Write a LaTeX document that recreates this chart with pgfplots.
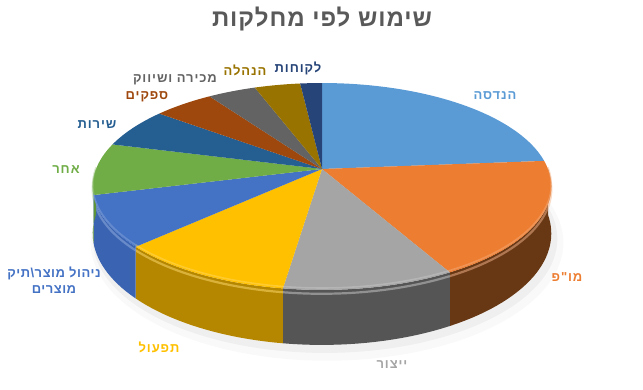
\documentclass[border=0pt]{standalone}
\usepackage{pgfplots}
\usepackage{pgfplotstable}
\pgfplotsset{compat=1.18}
\usepackage{fontspec}
\setmainfont{Liberation Sans}
\newfontfamily\heb[Script=Hebrew, LetterSpace=7]{Liberation Sans}
\newfontfamily\hebn[Script=Hebrew, LetterSpace=4]{Liberation Sans}
\newfontfamily\hebt[Script=Hebrew, LetterSpace=4]{Liberation Sans}
\TeXXeTstate=1

% slice (top) colours
\definecolor{c1}{HTML}{5B9BD5}
\definecolor{c2}{HTML}{ED7D31}
\definecolor{c3}{HTML}{A5A5A5}
\definecolor{c4}{HTML}{FFC000}
\definecolor{c5}{HTML}{4472C4}
\definecolor{c6}{HTML}{70AD47}
\definecolor{c7}{HTML}{255E91}
\definecolor{c8}{HTML}{9E480E}
\definecolor{c9}{HTML}{636363}
\definecolor{c10}{HTML}{997300}
\definecolor{c11}{HTML}{264478}
% side colours
\definecolor{s1}{HTML}{3F77AA}
\definecolor{s2}{HTML}{683714}
\definecolor{s3}{HTML}{555555}
\definecolor{s4}{HTML}{B58700}
\definecolor{s5}{HTML}{3A64B2}
\definecolor{s6}{HTML}{5E9439}
\definecolor{s7}{HTML}{1C4A73}
\definecolor{s8}{HTML}{7A370A}
\definecolor{s9}{HTML}{4A4A4A}
\definecolor{s10}{HTML}{765900}
\definecolor{s11}{HTML}{1C335A}
\definecolor{titlegray}{HTML}{595959}

% share of use per department (percent), clockwise from 12 o'clock
\pgfplotstableread{
value
23.7
18.3
10.3
10.7
8.0
8.1
6.3
5.0
4.0
3.8
1.8
}\piedata

% geometry of the projected pie (axis units = px)
\def\pcx{322}\def\pcy{221}\def\prx{226}\def\pry{100.5}\def\pkk{0.169}\def\pthk{45.7}

% append rim points from angle #1 to #2 at level #3 (0 top, 1 bottom) to \poly
\newcommand\buildrim[3]{%
  \pgfmathsetmacro\nn{max(2,ceil(abs(#1-#2)/2))}%
  \pgfmathtruncatemacro\nn{\nn}%
  \pgfmathsetmacro\stp{(#2-#1)/\nn}%
  \foreach \j in {0,...,\nn}{%
    \pgfmathsetmacro\ang{#1+\stp*\j}%
    \pgfmathsetmacro\vv{sin(\ang)}%
    \pgfmathsetmacro\ww{1+\pkk*\vv}%
    \pgfmathsetmacro\px{\pcx+\prx*cos(\ang)/\ww}%
    \pgfmathsetmacro\py{\pcy+\pry*\vv/\ww-#3*\pthk/\ww}%
    \xdef\poly{\poly (\px,\py)}%
  }%
}

\begin{document}
\begin{tikzpicture}
\pgfplotstablegetrowsof{\piedata}
\pgfmathtruncatemacro\nrows{\pgfplotsretval}
\xdef\total{0}
\foreach \i in {1,...,\nrows}{%
  \pgfmathtruncatemacro\rr{\i-1}%
  \pgfplotstablegetelem{\rr}{value}\of\piedata
  \pgfmathsetmacro\tt{\total+\pgfplotsretval}%
  \xdef\total{\tt}%
}
\xdef\cum{0}
\foreach \i in {1,...,\nrows}{%
  \pgfmathtruncatemacro\rr{\i-1}%
  \pgfplotstablegetelem{\rr}{value}\of\piedata
  \pgfmathsetmacro\pa{90-360*(\cum/\total)}%
  \pgfmathsetmacro\pc{\cum+\pgfplotsretval}%
  \xdef\cum{\pc}%
  \pgfmathsetmacro\pb{90-360*(\cum/\total)}%
  \xdef\poly{(\pcx,\pcy)}%
  \buildrim{\pa}{\pb}{0}%
  \expandafter\xdef\csname top\i\endcsname{\poly}%
  \pgfmathsetmacro\ps{min(\pa,0)}%
  \pgfmathsetmacro\pe{max(\pb,-180)}%
  \pgfmathtruncatemacro\hs{\ps>\pe}%
  \expandafter\xdef\csname hs\i\endcsname{\hs}%
  \ifnum\hs=1
    \xdef\poly{}%
    \buildrim{\ps}{\pe}{0}%
    \buildrim{\pe}{\ps}{1}%
    \expandafter\xdef\csname side\i\endcsname{\poly}%
    \xdef\poly{}%
    \buildrim{\ps}{\pe}{0.07}%
    \expandafter\xdef\csname hl\i\endcsname{\poly}%
    \xdef\poly{}%
    \buildrim{\ps}{\pe}{-0.035}%
    \expandafter\xdef\csname tl\i\endcsname{\poly}%
  \fi
}
% soft shadow outlines
\begingroup
\def\pcx{327}\def\pcy{213}\def\prx{233}\def\pry{107}
\xdef\poly{}\buildrim{0}{360}{1}\xdef\shadowA{\poly}
\def\pcx{325}\def\pcy{216}\def\prx{229}\def\pry{103}
\xdef\poly{}\buildrim{0}{360}{1}\xdef\shadowB{\poly}
\endgroup

\begin{axis}[scale only axis, width=643pt, height=390pt,
  xmin=0, xmax=643, ymin=0, ymax=390, hide axis, clip=false]
\path (axis cs:0,0) rectangle (axis cs:643,390);
\edef\cmd{\noexpand\addplot[fill=black, draw=none, opacity=0.025] coordinates {\shadowA};}\cmd
\edef\cmd{\noexpand\addplot[fill=black, draw=none, opacity=0.04] coordinates {\shadowB};}\cmd
\pgfplotsinvokeforeach{1,...,11}{%
  \ifnum\csname hs#1\endcsname=1
    \edef\cmd{\noexpand\addplot[fill=s#1, draw=none] coordinates {\csname side#1\endcsname};}\cmd
    \edef\cmd{\noexpand\addplot[draw=c#1!55!white, line width=2.2pt, opacity=0.5] coordinates {\csname hl#1\endcsname};}\cmd
  \fi
}
\pgfplotsinvokeforeach{1,...,11}{%
  \edef\cmd{\noexpand\addplot[fill=c#1, draw=none] coordinates {\csname top#1\endcsname};}\cmd
}
\pgfplotsinvokeforeach{1,...,11}{%
  \ifnum\csname hs#1\endcsname=1
    \edef\cmd{\noexpand\addplot[draw=c#1!60!white, line width=1.6pt, opacity=0.45] coordinates {\csname tl#1\endcsname};}\cmd
  \fi
}

\node[font=\hebt\bfseries\fontsize{24}{28}\selectfont, text=titlegray] at (axis cs:322,371) {\beginR שימוש לפי מחלקות\endR};
\tikzset{lab/.style={font=\heb\bfseries\fontsize{13}{16}\selectfont, align=center}}
\node[lab, text=c1] at (axis cs:495,294) {\beginR הנדסה\endR};
\node[lab, text=c2] at (axis cs:567,113) {\beginR מו"פ\endR};
\node[lab, text=c3] at (axis cs:392,25) {\beginR ייצור\endR};
\node[lab, text=c4] at (axis cs:159,43) {\beginR תפעול\endR};
\node[lab, font=\hebn\bfseries\fontsize{13}{16}\selectfont, text=c5] at (axis cs:54,110) {\beginR ניהול מוצר\textbackslash תיק\endR\\\beginR מוצרים\endR};
\node[lab, text=c6] at (axis cs:66,220) {\beginR אחר\endR};
\node[lab, text=c7] at (axis cs:97,265) {\beginR שירות\endR};
\node[lab, text=c8] at (axis cs:147,293) {\beginR ספקים\endR};
\node[lab, text=c9] at (axis cs:175,310) {\beginR מכירה ושיווק\endR};
\node[lab, text=c10] at (axis cs:245,320) {\beginR הנהלה\endR};
\node[lab, text=c11] at (axis cs:298,322) {\beginR לקוחות\endR};
\end{axis}
\end{tikzpicture}
\end{document}
